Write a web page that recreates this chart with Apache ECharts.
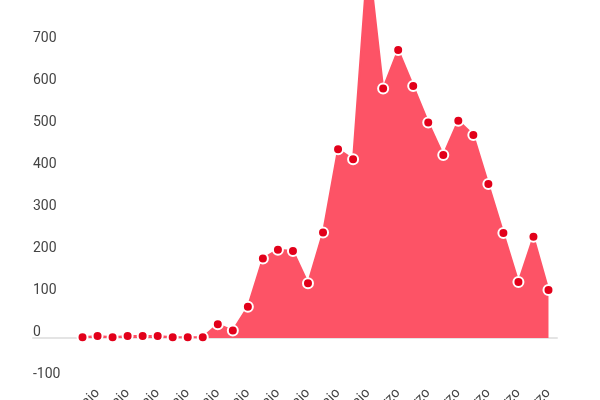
<!DOCTYPE html>
<html>
<head>
<meta charset="utf-8">
<script src="https://cdn.jsdelivr.net/npm/echarts@6/dist/echarts.min.js"></script>
<style>
  html, body { margin: 0; padding: 0; background: #fff; }
  #chart { width: 600px; height: 400px; }
</style>
</head>
<body>
<div id="chart"></div>
<script>
const dates = [
  '10 febbraio','11 febbraio','12 febbraio','13 febbraio','14 febbraio','15 febbraio','16 febbraio','17 febbraio',
  '18 febbraio','19 febbraio','20 febbraio','21 febbraio','22 febbraio','23 febbraio','24 febbraio','25 febbraio',
  '26 febbraio','27 febbraio','28 febbraio','29 febbraio','1 marzo','2 marzo','3 marzo','4 marzo',
  '5 marzo','6 marzo','7 marzo','8 marzo','9 marzo','10 marzo','11 marzo','12 marzo'
];
const values = [
  2, 5, 2, 5, 5, 5, 2, 2,
  2, 33, 18, 75, 190, 211, 208, 131,
  252, 451, 427, 915, 596, 688, 602, 515,
  437, 519, 485, 368, 251, 134, 242, 115
];
const yMin = -100, yMax = 800, yStep = 100;

const chart = echarts.init(document.getElementById('chart'), null, { renderer: 'canvas' });
const labelFont = { color: '#444', fontSize: 14, fontFamily: 'Roboto, sans-serif' };
chart.setOption({
  animation: false,
  backgroundColor: '#fff',
  grid: [
    { left: 33, right: 43, top: 3, bottom: 20, containLabel: false, outerBoundsMode: 'none' },
    { left: 75, right: 44, top: 3, bottom: 20, containLabel: false, outerBoundsMode: 'none' }
  ],
  xAxis: [
    {
      gridIndex: 0, type: 'value', min: 0, max: 1,
      axisLine: { show: true, onZero: true, lineStyle: { color: '#e4e4e4', width: 2 } },
      axisTick: { show: false }, axisLabel: { show: false }, splitLine: { show: false }
    },
    {
      gridIndex: 1, type: 'category', data: dates, boundaryGap: true, position: 'bottom',
      axisLine: { show: false, onZero: false }, axisTick: { show: false },
      axisLabel: Object.assign({ interval: (i) => i % 2 === 1, rotate: 45, margin: 11 }, labelFont),
      splitLine: { show: false }
    }
  ],
  yAxis: [
    {
      gridIndex: 0, type: 'value', min: yMin, max: yMax, interval: yStep,
      axisLine: { show: false }, axisTick: { show: false }, splitLine: { show: false },
      axisLabel: Object.assign({ inside: true, margin: 0, verticalAlign: 'bottom', padding: [0, 0, -1, 0], showMaxLabel: false }, labelFont)
    },
    {
      gridIndex: 1, type: 'value', min: yMin, max: yMax, interval: yStep, show: false,
      splitLine: { show: false }
    }
  ],
  series: [{
    type: 'line',
    xAxisIndex: 1, yAxisIndex: 1,
    data: values,
    clip: false,
    symbol: 'circle',
    symbolSize: 10,
    showAllSymbol: true,
    lineStyle: { color: '#fd5366', width: 2 },
    areaStyle: { color: '#fd5366', opacity: 1 },
    itemStyle: { color: '#e2001a', borderColor: '#fff', borderWidth: 2 }
  }]
});
</script>
</body>
</html>
